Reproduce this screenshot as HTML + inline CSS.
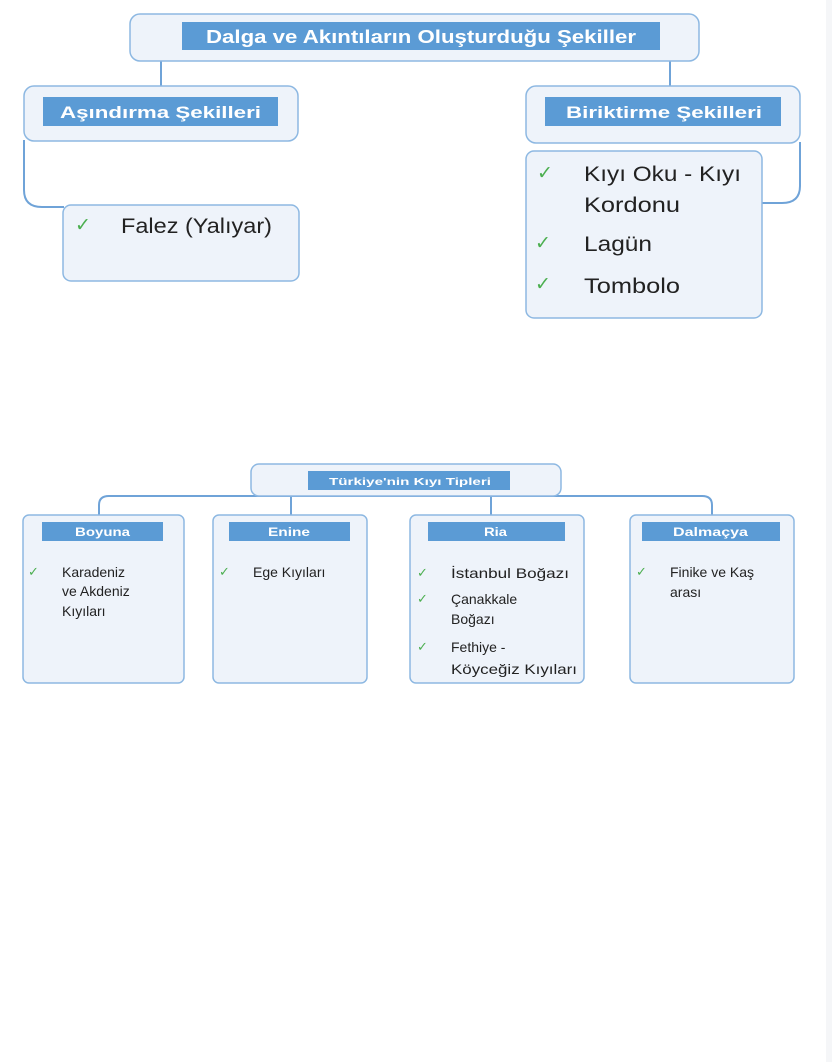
<!DOCTYPE html>
<html><head><meta charset="utf-8"><style>
html,body{margin:0;padding:0;background:#fff;}
svg{display:block;}
text{font-family:"Liberation Sans",Arial,sans-serif;}
</style></head><body>
<svg width="832" height="1062" viewBox="0 0 832 1062" xmlns="http://www.w3.org/2000/svg">
<rect x="826" y="0" width="6" height="1062" fill="#f5f6f8"/>
<g fill="none" stroke="#6fa3d8" stroke-width="2">
<path d="M161 61 V87"/>
<path d="M670 61 V87"/>
<path d="M24 140 V190 Q24 207 42 207 H64"/>
<path d="M800 142 V186 Q800 203 782 203 H762"/>
<path d="M99 515 V505 Q99 496 109 496 H702 Q712 496 712 505 V515"/>
<path d="M291 496 V515"/>
<path d="M491 496 V515"/>
</g>
<g fill="#eef3fa" stroke="#8db8e2" stroke-width="1.5">
<rect x="130" y="14" width="569" height="47" rx="10"/>
<rect x="24" y="86" width="274" height="55" rx="10"/>
<rect x="526" y="86" width="274" height="57" rx="10"/>
<rect x="63" y="205" width="236" height="76" rx="8"/>
<rect x="526" y="151" width="236" height="167" rx="8"/>
<rect x="251" y="464" width="310" height="32" rx="8"/>
<rect x="23" y="515" width="161" height="168" rx="6"/>
<rect x="213" y="515" width="154" height="168" rx="6"/>
<rect x="410" y="515" width="174" height="168" rx="6"/>
<rect x="630" y="515" width="164" height="168" rx="6"/>
</g>
<g fill="#5b9bd5">
<rect x="182" y="22" width="478" height="28"/>
<rect x="43" y="97" width="235" height="29"/>
<rect x="545" y="97" width="236" height="29"/>
<rect x="308" y="471" width="202" height="19"/>
<rect x="42" y="522" width="121" height="19"/>
<rect x="229" y="522" width="121" height="19"/>
<rect x="428" y="522" width="137" height="19"/>
<rect x="642" y="522" width="138" height="19"/>
</g>
<g fill="#fff" font-weight="bold">
<text x="206" y="43" font-size="18" textLength="430" lengthAdjust="spacingAndGlyphs">Dalga ve Akıntıların Oluşturduğu Şekiller</text>
<text x="60" y="118" font-size="17" textLength="201" lengthAdjust="spacingAndGlyphs">Aşındırma Şekilleri</text>
<text x="566" y="118" font-size="17" textLength="196" lengthAdjust="spacingAndGlyphs">Biriktirme Şekilleri</text>
<text x="329" y="485" font-size="10.5" textLength="162" lengthAdjust="spacingAndGlyphs">Türkiye'nin Kıyı Tipleri</text>
<text x="75" y="536" font-size="12" textLength="55" lengthAdjust="spacingAndGlyphs">Boyuna</text>
<text x="268" y="536" font-size="12" textLength="42" lengthAdjust="spacingAndGlyphs">Enine</text>
<text x="484" y="536" font-size="12" textLength="23" lengthAdjust="spacingAndGlyphs">Ria</text>
<text x="673" y="536" font-size="12" textLength="75" lengthAdjust="spacingAndGlyphs">Dalmaçya</text>
</g>
<g fill="#4caf50" font-size="19">
<text x="75" y="231">✓</text>
<text x="537" y="179">✓</text>
<text x="535" y="249">✓</text>
<text x="535" y="290">✓</text>
</g>
<g fill="#4caf50" font-size="13">
<text x="28" y="576">✓</text>
<text x="219" y="576">✓</text>
<text x="417" y="577">✓</text>
<text x="417" y="603">✓</text>
<text x="417" y="651">✓</text>
<text x="636" y="576">✓</text>
</g>
<g fill="#222" font-size="21">
<text x="121" y="233" textLength="151" lengthAdjust="spacingAndGlyphs">Falez (Yalıyar)</text>
<text x="584" y="181" textLength="157" lengthAdjust="spacingAndGlyphs">Kıyı Oku - Kıyı</text>
<text x="584" y="212" textLength="96" lengthAdjust="spacingAndGlyphs">Kordonu</text>
<text x="584" y="251" textLength="68" lengthAdjust="spacingAndGlyphs">Lagün</text>
<text x="584" y="293" textLength="96" lengthAdjust="spacingAndGlyphs">Tombolo</text>
</g>
<g fill="#222" font-size="14">
<text x="62" y="577">Karadeniz</text>
<text x="62" y="596">ve Akdeniz</text>
<text x="62" y="616">Kıyıları</text>
<text x="253" y="577">Ege Kıyıları</text>
<text x="451" y="578" textLength="118" lengthAdjust="spacingAndGlyphs">İstanbul Boğazı</text>
<text x="451" y="604">Çanakkale</text>
<text x="451" y="624">Boğazı</text>
<text x="451" y="652">Fethiye -</text>
<text x="451" y="674" textLength="126" lengthAdjust="spacingAndGlyphs">Köyceğiz Kıyıları</text>
<text x="670" y="577">Finike ve Kaş</text>
<text x="670" y="597">arası</text>
</g>
</svg>
</body></html>
